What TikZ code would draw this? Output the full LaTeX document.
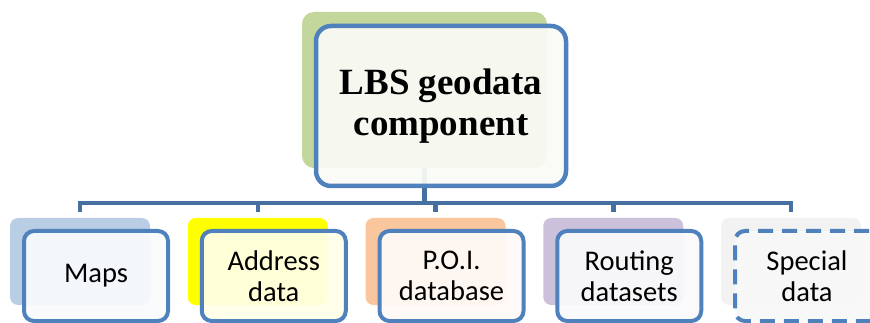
\documentclass[tikz,border=0pt]{standalone}
\usepackage{fontspec}
\setmainfont{Liberation Serif}
\newfontfamily\leaffont{Carlito}
\usetikzlibrary{positioning,calc}
\definecolor{Edge}{HTML}{4F81BD}
\definecolor{Link}{HTML}{46709F}
\definecolor{Olive}{HTML}{C3D69B}
\definecolor{PaleSteel}{HTML}{B9CDE5}
\definecolor{Lemon}{HTML}{FFFF00}
\definecolor{Peach}{HTML}{FAC69E}
\definecolor{Lilac}{HTML}{CCC1DA}
\definecolor{Mist}{HTML}{F2F2F2}
\tikzset{
  shade/.style={rounded corners=8pt, fill=#1, minimum width=140pt, minimum height=87pt, inner sep=0pt},
  leaf/.style={rounded corners=10pt, draw=Edge, line width=4pt, fill=#1, fill opacity=0.93, text opacity=1,
    minimum width=144pt, minimum height=90pt, align=center, font=\leaffont\fontsize{28.5}{31}\selectfont},
  link/.style={draw=Link, line width=4.5pt, line join=miter}
}
\begin{document}
\begin{tikzpicture}[x=1pt,y=-1pt]
\useasboundingbox (0,0) rectangle (870,323);
\clip (0,0) rectangle (870,323);
% back panels
\node[shade=Olive, minimum width=245pt, minimum height=156pt, rounded corners=12pt] (rootbk) at (424.5,90) {};
\node[shade=PaleSteel] (mapsbk) at (80,261.5) {};
\node[shade=Lemon] (addrbk) at (257.75,261.5) {};
\node[shade=Peach] (poibk) at (435.5,261.5) {};
\node[shade=Lilac] (routebk) at (613.25,261.5) {};
\node[shade=Mist] (specbk) at (791,261.5) {};
\coordinate (bar) at (0,203);
% links
\draw[link] (rootbk.south) -- (rootbk.south |- bar);
\draw[link] ([yshift=6pt]mapsbk.north) |- (specbk.north |- bar) -- ([yshift=6pt]specbk.north);
\foreach \n in {addrbk,poibk,routebk} \draw[link] (\n.north |- bar) -- ([yshift=6pt]\n.north);
% front boxes
\node[leaf=Olive!9!white, minimum width=250pt, minimum height=160pt, rounded corners=15pt, line width=4.5pt,
  font=\bfseries\fontsize{37}{41}\selectfont] (root) at ([shift={(16.5pt,-16pt)}]rootbk.center) {LBS geodata\\component};
\node[leaf=PaleSteel!10!white] (maps) at ([shift={(16pt,-14.5pt)}]mapsbk.center) {Maps};
\node[leaf=Lemon!9!white] (addr) at ([shift={(16pt,-14.5pt)}]addrbk.center) {Address\\data};
\node[leaf=Peach!8!white] (poi) at ([shift={(16pt,-14.5pt)}]poibk.center) {P.O.I.\\database};
\node[leaf=Lilac!10!white] (route) at ([shift={(16pt,-14.5pt)}]routebk.center) {Routing\\datasets};
\node[leaf=Mist!50!white, dash pattern=on 15pt off 9pt] (spec) at ([shift={(16pt,-14.5pt)}]specbk.center) {Special\\data};
\end{tikzpicture}
\end{document}
